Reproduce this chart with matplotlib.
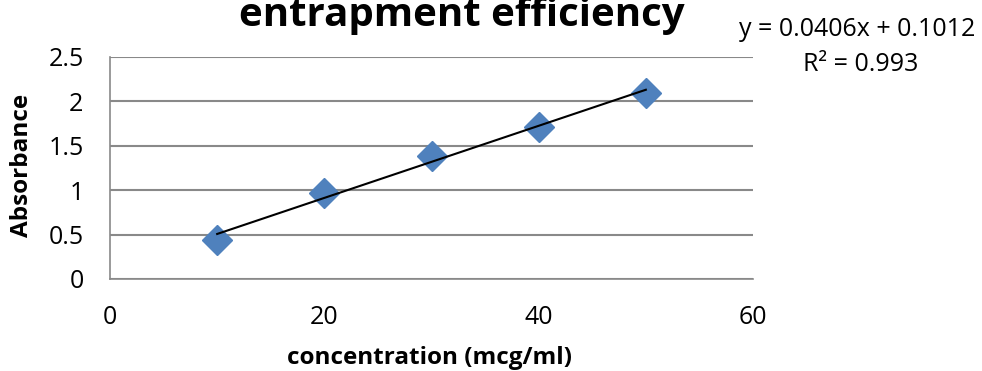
import matplotlib.pyplot as plt

plt.rcParams['font.family'] = ['Open Sans', 'DejaVu Sans']

# concentration vs absorbance
conc = [10, 20, 30, 40, 50]
absorbance = [0.44, 0.97, 1.38, 1.71, 2.10]

# linear trendline reported for the calibration
slope = 0.0406
intercept = 0.1012
r2 = 0.993

fig = plt.figure(figsize=(9.82, 3.71), dpi=100)
ax = fig.add_axes([110 / 982, 92 / 371, 643 / 982, 222 / 371])

ax.set_xlim(0, 60)
ax.set_ylim(0, 2.5)
ax.set_xticks([0, 20, 40, 60])
ax.set_yticks([0, 0.5, 1, 1.5, 2, 2.5])
ax.set_yticklabels(['0', '0.5', '1', '1.5', '2', '2.5'])
ax.grid(axis='y', color='#898989', linewidth=1.5)
ax.set_axisbelow(True)

for side in ['top', 'right']:
    ax.spines[side].set_visible(False)
for side in ['left', 'bottom']:
    ax.spines[side].set_color('#898989')
    ax.spines[side].set_linewidth(1.2)
ax.tick_params(length=0, labelsize=18)
ax.tick_params(axis='x', pad=19)
ax.tick_params(axis='y', pad=19)

ax.plot(conc, absorbance, linestyle='none', marker='D', markersize=15,
        color='#4F81BD', zorder=3)

xs = [conc[0], conc[-1]]
ax.plot(xs, [slope * x + intercept for x in xs], color='black',
        linewidth=1.5, zorder=4)

ax.set_xlabel('concentration (mcg/ml)', fontsize=17.5, fontweight='bold')
ax.xaxis.set_label_coords(0.497, -0.356)
ax.xaxis.label.set_va('center')
ax.set_ylabel('Absorbance', fontsize=17.5, fontweight='bold')
ax.yaxis.set_label_coords(-0.137, 0.51)
ax.yaxis.label.set_va('center')

fig.text(462 / 982, 1 - 26 / 371, 'entrapment efficiency', ha='center',
         va='baseline', fontsize=29, fontweight='bold')
fig.text(857 / 982, 1 - 36 / 371, f'y = {slope}x + {intercept}', ha='center',
         va='baseline', fontsize=18)
fig.text(861 / 982, 1 - 71 / 371, f'R² = {r2}', ha='center', va='baseline',
         fontsize=18)

fig.savefig('out.png', dpi=100)
